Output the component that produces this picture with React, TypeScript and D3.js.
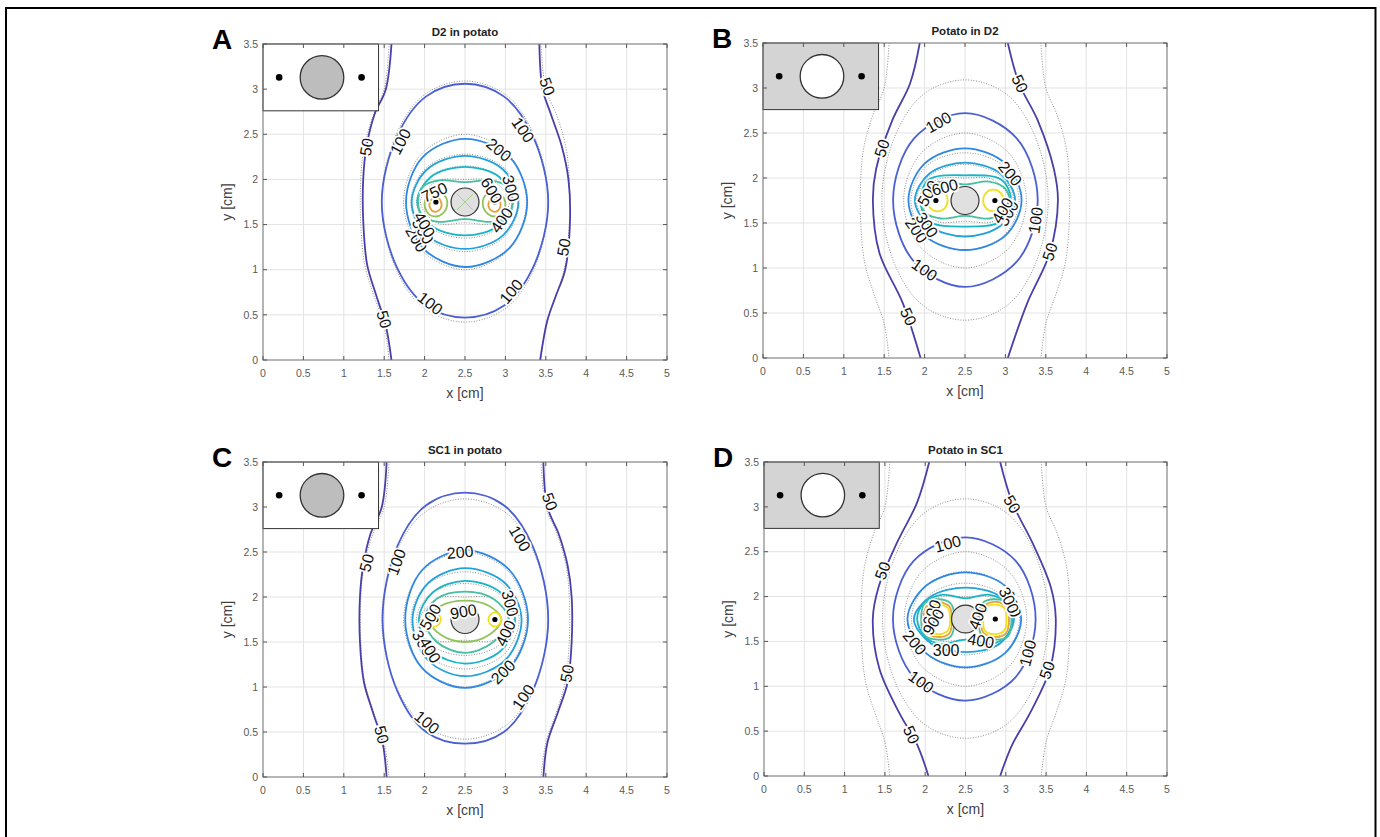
import React from 'react';
import * as d3 from 'd3';

type P = [number, number];
type Contour = { lv: number; closed: boolean; pts: P[] };
type Lab = [string, number, number, number];

const levels = [50, 100, 200, 300, 400, 500, 600, 750, 900];
const levelColors = ['#4a3fa8', '#4b5fd2', '#2e88e2', '#22a2dc', '#18b5c6', '#46c0a0', '#93c45c', '#e8a33c', '#f0e020'];

const xTicks = [0, 0.5, 1, 1.5, 2, 2.5, 3, 3.5, 4, 4.5, 5];
const yTicks = [0, 0.5, 1, 1.5, 2, 2.5, 3, 3.5];

const titles = ['D2 in potato', 'Potato in D2', 'SC1 in potato', 'Potato in SC1'];
const letters = ['A', 'B', 'C', 'D'];

// homogeneous reference (gray dotted)
const refContours: Contour[] = [
  { lv: 50, closed: false, pts: [[1.56, 3.5], [1.5, 3.0], [1.36, 2.7], [1.25, 2.35], [1.21, 2.0], [1.21, 1.5], [1.26, 1.05], [1.37, 0.72], [1.5, 0.38], [1.56, 0]] },
  { lv: 50, closed: false, pts: [[3.44, 3.5], [3.5, 3.0], [3.64, 2.7], [3.75, 2.35], [3.79, 2.0], [3.79, 1.5], [3.74, 1.05], [3.63, 0.72], [3.5, 0.38], [3.44, 0]] },
  { lv: 100, closed: true, pts: [[2.5, 3.09], [3.0, 2.94], [3.35, 2.5], [3.53, 1.75], [3.35, 1.0], [3.0, 0.57], [2.5, 0.42], [2.0, 0.57], [1.65, 1.0], [1.47, 1.75], [1.65, 2.5], [2.0, 2.94]] },
  { lv: 200, closed: true, pts: [[2.5, 2.5], [3.04, 2.28], [3.26, 1.75], [3.04, 1.22], [2.5, 1.0], [1.96, 1.22], [1.74, 1.75], [1.96, 2.28]] },
  { lv: 300, closed: true, pts: [[2.5, 2.28], [2.98, 2.13], [3.17, 1.75], [2.98, 1.36], [2.5, 1.2], [2.02, 1.36], [1.83, 1.75], [2.02, 2.13]] },
  { lv: 400, closed: true, pts: [[2.5, 2.15], [2.93, 2.03], [3.1, 1.75], [2.93, 1.47], [2.5, 1.35], [2.07, 1.47], [1.9, 1.75], [2.07, 2.03]] },
  { lv: 500, closed: true, pts: [[2.5, 2.0], [2.85, 1.98], [3.05, 1.75], [2.85, 1.52], [2.5, 1.52], [2.15, 1.52], [1.95, 1.75], [2.15, 1.98]] },
];

const contoursA: Contour[] = [
  { lv: 50, closed: false, pts: [[1.59, 3.5], [1.52, 3.0], [1.38, 2.72], [1.28, 2.36], [1.24, 2.0], [1.24, 1.55], [1.29, 1.05], [1.4, 0.72], [1.52, 0.38], [1.59, 0]] },
  { lv: 50, closed: false, pts: [[3.42, 3.5], [3.46, 3.0], [3.56, 2.73], [3.7, 2.36], [3.78, 2.0], [3.8, 1.55], [3.74, 1.0], [3.62, 0.7], [3.52, 0.44], [3.43, 0]] },
  { lv: 100, closed: true, pts: [[2.5, 3.06], [2.98, 2.92], [3.34, 2.48], [3.53, 1.75], [3.34, 1.02], [2.98, 0.6], [2.5, 0.47], [2.02, 0.6], [1.66, 1.02], [1.47, 1.75], [1.66, 2.48], [2.02, 2.92]] },
  { lv: 200, closed: true, pts: [[2.5, 2.45], [3.05, 2.25], [3.27, 1.75], [3.05, 1.24], [2.5, 1.03], [1.98, 1.24], [1.77, 1.75], [1.98, 2.25]] },
  { lv: 300, closed: true, pts: [[2.5, 2.26], [2.97, 2.11], [3.16, 1.75], [2.97, 1.38], [2.5, 1.23], [2.03, 1.38], [1.84, 1.75], [2.03, 2.11]] },
  { lv: 400, closed: true, pts: [[2.5, 2.14], [2.92, 2.03], [3.09, 1.75], [2.92, 1.49], [2.5, 1.38], [2.08, 1.49], [1.91, 1.75], [2.08, 2.03]] },
  { lv: 500, closed: true, pts: [[2.5, 1.97], [2.82, 1.99], [3.02, 1.92], [3.09, 1.75], [3.02, 1.58], [2.82, 1.53], [2.5, 1.56], [2.18, 1.53], [1.98, 1.58], [1.92, 1.75], [1.98, 1.92], [2.18, 1.99]] },
  { lv: 600, closed: true, pts: [[2.14, 1.87], [2.25, 1.82], [2.28, 1.72], [2.22, 1.62], [2.12, 1.59], [2.03, 1.64], [2.0, 1.74], [2.05, 1.83]] },
  { lv: 600, closed: true, pts: [[2.86, 1.87], [2.75, 1.82], [2.72, 1.72], [2.78, 1.62], [2.88, 1.59], [2.97, 1.64], [3.0, 1.74], [2.95, 1.83]] },
  { lv: 750, closed: true, pts: [[2.14, 1.81], [2.2, 1.76], [2.2, 1.68], [2.13, 1.64], [2.07, 1.68], [2.07, 1.76]] },
  { lv: 750, closed: true, pts: [[2.86, 1.81], [2.8, 1.76], [2.8, 1.68], [2.87, 1.64], [2.93, 1.68], [2.93, 1.76]] },
];

const contoursB: Contour[] = [
  { lv: 50, closed: false, pts: [[1.94, 3.5], [1.82, 3.05], [1.6, 2.64], [1.4, 2.1], [1.36, 1.75], [1.44, 1.17], [1.73, 0.61], [1.95, 0]] },
  { lv: 50, closed: false, pts: [[3.03, 3.5], [3.17, 3.05], [3.4, 2.64], [3.6, 2.1], [3.65, 1.75], [3.55, 1.17], [3.27, 0.61], [3.03, 0]] },
  { lv: 100, closed: true, pts: [[2.5, 2.72], [3.14, 2.44], [3.4, 1.75], [3.14, 1.07], [2.5, 0.79], [1.87, 1.07], [1.61, 1.75], [1.87, 2.44]] },
  { lv: 200, closed: true, pts: [[2.5, 2.33], [3.0, 2.16], [3.2, 1.75], [3.0, 1.36], [2.5, 1.2], [2.0, 1.36], [1.8, 1.75], [2.0, 2.16]] },
  { lv: 300, closed: true, pts: [[2.5, 2.17], [2.94, 2.05], [3.12, 1.75], [2.94, 1.47], [2.5, 1.35], [2.06, 1.47], [1.88, 1.75], [2.06, 2.05]] },
  { lv: 400, closed: true, pts: [[2.5, 2.03], [2.95, 1.98], [3.07, 1.75], [2.95, 1.52], [2.5, 1.46], [2.05, 1.52], [1.95, 1.75], [2.05, 1.98]] },
  { lv: 500, closed: true, pts: [[2.5, 1.93], [2.8, 1.96], [3.0, 1.88], [3.05, 1.75], [3.0, 1.62], [2.8, 1.55], [2.5, 1.58], [2.2, 1.55], [2.0, 1.62], [1.96, 1.75], [2.0, 1.88], [2.2, 1.96]] },
  { lv: 900, closed: true, pts: [[2.16, 1.87], [2.25, 1.835], [2.285, 1.75], [2.25, 1.665], [2.16, 1.63], [2.07, 1.665], [2.035, 1.75], [2.07, 1.835]] },
  { lv: 900, closed: true, pts: [[2.85, 1.87], [2.94, 1.835], [2.975, 1.75], [2.94, 1.665], [2.85, 1.63], [2.76, 1.665], [2.725, 1.75], [2.76, 1.835]] },
];

const contoursC: Contour[] = [
  { lv: 50, closed: false, pts: [[1.53, 3.5], [1.47, 3.0], [1.33, 2.7], [1.24, 2.35], [1.2, 2.0], [1.2, 1.5], [1.25, 1.05], [1.36, 0.72], [1.48, 0.38], [1.53, 0]] },
  { lv: 50, closed: false, pts: [[3.47, 3.5], [3.52, 3.0], [3.66, 2.7], [3.77, 2.35], [3.82, 2.0], [3.82, 1.5], [3.77, 1.05], [3.65, 0.72], [3.52, 0.38], [3.47, 0]] },
  { lv: 100, closed: true, pts: [[2.5, 3.16], [2.98, 3.02], [3.34, 2.56], [3.53, 1.75], [3.34, 0.96], [2.98, 0.5], [2.5, 0.37], [2.02, 0.5], [1.66, 0.96], [1.48, 1.75], [1.66, 2.56], [2.02, 3.02]] },
  { lv: 200, closed: true, pts: [[2.5, 2.52], [3.05, 2.3], [3.28, 1.75], [3.05, 1.21], [2.5, 0.99], [1.97, 1.21], [1.76, 1.75], [1.97, 2.3]] },
  { lv: 300, closed: true, pts: [[2.5, 2.32], [3.0, 2.15], [3.2, 1.75], [3.0, 1.3], [2.5, 1.12], [2.04, 1.3], [1.85, 1.75], [2.04, 2.15]] },
  { lv: 400, closed: true, pts: [[2.5, 2.18], [2.94, 2.05], [3.12, 1.75], [2.94, 1.4], [2.5, 1.26], [2.1, 1.4], [1.93, 1.75], [2.1, 2.05]] },
  { lv: 500, closed: true, pts: [[2.5, 2.06], [2.85, 1.98], [3.04, 1.75], [2.85, 1.5], [2.5, 1.38], [2.15, 1.5], [2.0, 1.75], [2.15, 1.98]] },
  { lv: 600, closed: true, pts: [[2.5, 1.96], [2.8, 1.9], [2.95, 1.75], [2.8, 1.58], [2.5, 1.5], [2.2, 1.58], [2.05, 1.75], [2.2, 1.9]] },
  { lv: 900, closed: true, pts: [[2.12, 1.83], [2.18, 1.8], [2.2, 1.75], [2.18, 1.7], [2.12, 1.67], [2.06, 1.7], [2.04, 1.75], [2.06, 1.8]] },
  { lv: 900, closed: true, pts: [[2.87, 1.83], [2.93, 1.8], [2.95, 1.75], [2.93, 1.7], [2.87, 1.67], [2.81, 1.7], [2.79, 1.75], [2.81, 1.8]] },
];

const contoursD: Contour[] = [
  { lv: 50, closed: false, pts: [[2.05, 3.5], [1.9, 3.05], [1.65, 2.6], [1.42, 2.1], [1.35, 1.75], [1.43, 1.2], [1.68, 0.7], [1.9, 0.35], [2.04, 0]] },
  { lv: 50, closed: false, pts: [[2.93, 3.5], [3.08, 3.05], [3.33, 2.6], [3.56, 2.1], [3.62, 1.75], [3.55, 1.2], [3.3, 0.7], [3.08, 0.35], [2.93, 0]] },
  { lv: 100, closed: true, pts: [[2.5, 2.66], [3.12, 2.4], [3.37, 1.75], [3.12, 1.1], [2.5, 0.84], [1.86, 1.1], [1.6, 1.75], [1.86, 2.4]] },
  { lv: 200, closed: true, pts: [[2.5, 2.27], [2.99, 2.12], [3.19, 1.75], [2.99, 1.37], [2.5, 1.21], [2.01, 1.37], [1.78, 1.75], [2.01, 2.12]] },
  { lv: 300, closed: true, pts: [[2.5, 2.1], [2.93, 2.0], [3.1, 1.75], [2.93, 1.48], [2.5, 1.38], [2.07, 1.48], [1.86, 1.75], [2.07, 2.0]] },
  { lv: 400, closed: true, pts: [[2.5, 1.98], [2.8, 2.02], [3.02, 1.92], [3.08, 1.75], [3.0, 1.55], [2.8, 1.47], [2.5, 1.52], [2.2, 1.47], [2.0, 1.55], [1.9, 1.75], [1.98, 1.92], [2.2, 2.02]] },
  { lv: 500, closed: true, pts: [[2.15, 1.97], [2.32, 1.92], [2.36, 1.75], [2.32, 1.56], [2.15, 1.52], [1.99, 1.57], [1.95, 1.75], [1.99, 1.92]] },
  { lv: 500, closed: true, pts: [[2.87, 1.97], [3.03, 1.92], [3.07, 1.75], [3.03, 1.56], [2.87, 1.52], [2.7, 1.57], [2.66, 1.75], [2.7, 1.92]] },
  { lv: 750, closed: true, pts: [[2.15, 1.94], [2.3, 1.89], [2.33, 1.75], [2.3, 1.59], [2.15, 1.55], [2.02, 1.6], [1.98, 1.75], [2.02, 1.89]] },
  { lv: 750, closed: true, pts: [[2.87, 1.94], [3.0, 1.89], [3.04, 1.75], [3.0, 1.59], [2.87, 1.55], [2.72, 1.6], [2.69, 1.75], [2.72, 1.89]] },
  { lv: 900, closed: true, pts: [[2.15, 1.91], [2.28, 1.87], [2.31, 1.75], [2.28, 1.62], [2.15, 1.58], [2.04, 1.62], [2.01, 1.75], [2.04, 1.87]] },
  { lv: 900, closed: true, pts: [[2.87, 1.91], [2.98, 1.87], [3.01, 1.75], [2.98, 1.62], [2.87, 1.58], [2.74, 1.62], [2.72, 1.75], [2.74, 1.87]] },
];

const labelsA: Lab[] = [
  ['50', 1.28, 2.36, -80], ['50', 1.5, 0.45, 75], ['50', 3.52, 3.03, 70], ['50', 3.72, 1.25, -80],
  ['100', 1.7, 2.42, -62], ['100', 3.22, 2.55, 55], ['100', 2.07, 0.63, 38], ['100', 3.07, 0.76, -50],
  ['200', 2.92, 2.33, 40], ['200', 1.9, 1.34, 60], ['300', 3.07, 1.9, 75], ['300', 1.98, 1.43, 60],
  ['400', 2.95, 1.55, -55], ['400', 2.0, 1.5, 60], ['750', 2.12, 1.86, -25], ['600', 2.83, 1.88, 60],
];
const labelsB: Lab[] = [
  ['50', 1.47, 2.33, -72], ['50', 1.8, 0.46, 65], ['50', 3.18, 3.05, 65], ['50', 3.55, 1.18, -72],
  ['100', 2.17, 2.62, -30], ['100', 3.37, 1.53, -82], ['100', 2.0, 0.98, 35],
  ['200', 3.06, 2.05, 50], ['200', 1.9, 1.42, 55], ['300', 3.03, 1.61, -60], ['300', 2.03, 1.48, 55],
  ['400', 2.96, 1.64, -60], ['500', 2.04, 1.83, -60], ['600', 2.25, 1.9, -15],
];
const labelsC: Lab[] = [
  ['50', 1.28, 2.38, -75], ['50', 1.47, 0.47, 75], ['50', 3.55, 3.06, 70], ['50', 3.76, 1.15, -80],
  ['100', 1.65, 2.39, -70], ['100', 3.18, 2.65, 60], ['100', 2.03, 0.61, 40], ['100', 3.22, 0.89, -55],
  ['200', 2.44, 2.5, -5], ['200', 2.97, 1.17, -45], ['300', 3.06, 1.93, 75], ['300', 1.98, 1.49, 60],
  ['400', 3.0, 1.6, -65], ['400', 2.07, 1.41, 60], ['500', 2.07, 1.78, -60], ['900', 2.48, 1.84, -10],
];
const labelsD: Lab[] = [
  ['50', 1.47, 2.29, -70], ['50', 1.83, 0.46, 65], ['50', 3.08, 3.03, 60], ['50', 3.51, 1.18, -70],
  ['100', 2.28, 2.59, -15], ['100', 3.27, 1.37, -75], ['100', 1.95, 1.05, 35],
  ['200', 3.08, 1.92, 70], ['200', 1.87, 1.49, 50], ['300', 2.26, 1.4, 0], ['300', 3.04, 1.96, 65],
  ['400', 2.69, 1.51, 10], ['400', 2.65, 1.78, -70], ['600', 2.08, 1.82, -70], ['900', 2.1, 1.72, -60],
];

const electrodesX = [2.14, 2.87];
const insetElectrodesX = [0.2, 1.22];

type Frame = { x: number; y: number; w: number; h: number };
const frames: Frame[] = [
  { x: 263, y: 44, w: 404, h: 316 },
  { x: 763, y: 43, w: 404, h: 315 },
  { x: 263, y: 462, w: 404, h: 315 },
  { x: 764, y: 462, w: 403, h: 314 },
];
const allContours = [contoursA, contoursB, contoursC, contoursD];
const allLabels = [labelsA, labelsB, labelsC, labelsD];
const insetDark = [false, true, false, true];

const FONT = 'Liberation Sans, Arial, Helvetica, sans-serif';

function Panel({ idx }: { idx: number }) {
  const f = frames[idx];
  const sx = d3.scaleLinear().domain([0, 5]).range([f.x, f.x + f.w]);
  const sy = d3.scaleLinear().domain([0, 3.5]).range([f.y + f.h, f.y]);
  const color = (lv: number) => levelColors[levels.indexOf(lv)];
  const path = (c: Contour) =>
    d3.line<P>().x((d) => sx(d[0])).y((d) => sy(d[1]))
      .curve(c.closed ? d3.curveCatmullRomClosed.alpha(0.5) : d3.curveCatmullRom.alpha(0.5))(c.pts) || '';
  const clipId = `clip${idx}`;
  const dark = insetDark[idx];
  const rIn = sx(0.27) - sx(0);
  const rC = sx(0.173) - sx(0);
  return (
    <g>
      <defs>
        <clipPath id={clipId}>
          <rect x={f.x} y={f.y} width={f.w} height={f.h} />
        </clipPath>
      </defs>
      {xTicks.map((t) => (
        <line key={'gx' + t} x1={sx(t)} x2={sx(t)} y1={f.y} y2={f.y + f.h} stroke="#e3e3e3" strokeWidth={1} />
      ))}
      {yTicks.map((t) => (
        <line key={'gy' + t} x1={f.x} x2={f.x + f.w} y1={sy(t)} y2={sy(t)} stroke="#e3e3e3" strokeWidth={1} />
      ))}
      <g clipPath={`url(#${clipId})`}>
        {refContours.map((c, i) => (
          <path key={'r' + i} d={path(c)} fill="none" stroke="#8f8f8f" strokeWidth={1} strokeDasharray="1 1.6" />
        ))}
        {allContours[idx].map((c, i) => (
          <path key={'c' + i} d={path(c)} fill="none" stroke={color(c.lv)} strokeWidth={1.8} />
        ))}
      </g>
      <rect x={sx(0)} y={sy(3.5)} width={sx(1.43) - sx(0)} height={sy(2.76) - sy(3.5)}
        fill={dark ? '#d4d4d4' : '#ffffff'} stroke="#333" strokeWidth={1} />
      <circle cx={sx(0.73)} cy={sy(3.13)} r={rIn} fill={dark ? '#ffffff' : '#bdbdbd'} stroke="#333" strokeWidth={1.3} />
      {insetElectrodesX.map((ex) => (
        <circle key={'ie' + ex} cx={sx(ex)} cy={sy(3.13)} r={3.3} fill="#000" />
      ))}
      <circle cx={sx(2.5)} cy={sy(1.75)} r={rC} fill="#e0e0e0" stroke="#333" strokeWidth={1.2} />
      {idx === 0 && (
        <g stroke="#a8d08c" strokeWidth={1}>
          <line x1={sx(2.4)} y1={sy(1.66)} x2={sx(2.6)} y2={sy(1.84)} />
          <line x1={sx(2.4)} y1={sy(1.84)} x2={sx(2.6)} y2={sy(1.66)} />
        </g>
      )}
      {idx === 3 && <circle cx={sx(2.62)} cy={sy(1.72)} r={6} fill="#9a9a9a" opacity={0.8} />}
      {electrodesX.map((ex) => (
        <circle key={'e' + ex} cx={sx(ex)} cy={sy(1.75)} r={2.6} fill="#000" />
      ))}
      {allLabels[idx].map((l, i) => (
        <text key={'l' + i} transform={`translate(${sx(l[1])},${sy(l[2])}) rotate(${l[3]})`}
          textAnchor="middle" dy="0.36em" fontFamily={FONT} fontSize={16} fill="#111"
          stroke="#fff" strokeWidth={3.5} paintOrder="stroke">{l[0]}</text>
      ))}
      <rect x={f.x} y={f.y} width={f.w} height={f.h} fill="none" stroke="#7a7a7a" strokeWidth={1} />
      {xTicks.map((t) => (
        <g key={'tx' + t}>
          <line x1={sx(t)} x2={sx(t)} y1={f.y + f.h} y2={f.y + f.h - 4} stroke="#555" />
          <line x1={sx(t)} x2={sx(t)} y1={f.y} y2={f.y + 4} stroke="#555" />
          <text x={sx(t)} y={f.y + f.h + 17} textAnchor="middle" fontFamily={FONT} fontSize={10.5} fill="#5a5a5a">{String(t)}</text>
        </g>
      ))}
      {yTicks.map((t) => (
        <g key={'ty' + t}>
          <line x1={f.x} x2={f.x + 4} y1={sy(t)} y2={sy(t)} stroke="#555" />
          <line x1={f.x + f.w} x2={f.x + f.w - 4} y1={sy(t)} y2={sy(t)} stroke="#555" />
          <text x={f.x - 5} y={sy(t)} dy="0.36em" textAnchor="end" fontFamily={FONT} fontSize={10.5} fill="#5a5a5a">{String(t)}</text>
        </g>
      ))}
      <text x={f.x + f.w / 2} y={f.y + f.h + 38} textAnchor="middle" fontFamily={FONT} fontSize={14} fill="#404040">x [cm]</text>
      <text transform={`translate(${f.x - 31},${f.y + f.h / 2}) rotate(-90)`} textAnchor="middle" fontFamily={FONT} fontSize={14} fill="#404040">y [cm]</text>
      <text x={f.x + f.w / 2} y={f.y - 8} textAnchor="middle" fontFamily={FONT} fontSize={11.5} fontWeight="bold" fill="#222">{titles[idx]}</text>
      <text x={f.x - 51} y={f.y + 5} fontFamily={FONT} fontSize={28} fontWeight="bold" fill="#000">{letters[idx]}</text>
    </g>
  );
}

export default function App() {
  return (
    <svg width={1380} height={837} style={{ position: 'absolute', left: 0, top: 0, background: '#fff' }}>
      <rect x={0} y={0} width={1380} height={837} fill="#fff" />
      <rect x={6} y={8} width={1369.5} height={845} fill="none" stroke="#000" strokeWidth={2} />
      {[0, 1, 2, 3].map((i) => (
        <Panel key={i} idx={i} />
      ))}
    </svg>
  );
}
